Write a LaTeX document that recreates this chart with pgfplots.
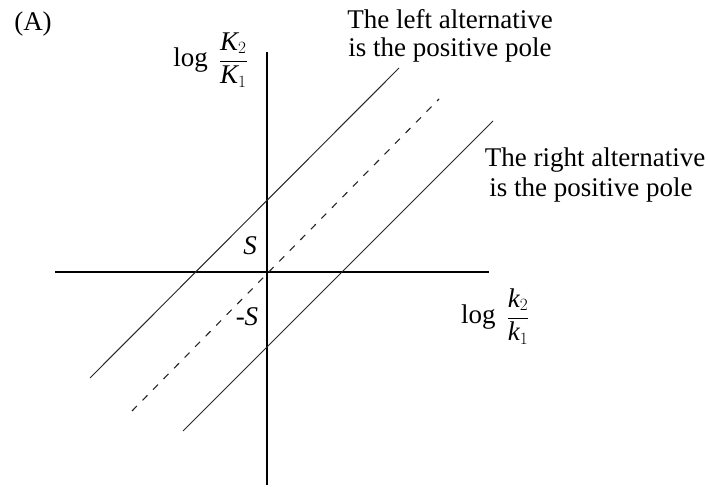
\documentclass[border=0pt]{standalone}
\usepackage{fontspec}
\setmainfont{Liberation Serif}
\usepackage{pgfplots}
\pgfplotsset{compat=1.18}
\begin{document}
\begin{tikzpicture}[
  lbl/.style={font=\fontsize{27bp}{30bp}\selectfont, inner sep=0pt},
]
\begin{axis}[
  scale only axis, width=708bp, height=487bp,
  xmin=-267, xmax=441, ymin=-215, ymax=272,
  hide axis, clip=false,
]
\path (rel axis cs:0,0) rectangle (rel axis cs:1,1);
% coordinate axes
\addplot[black, no markers, line width=1.8bp] coordinates {(0,-213) (0,220)};
\addplot[black, no markers, line width=1.8bp] coordinates {(-212,0) (222,0)};
% boundary lines: intercepts S and -S
\addplot[black!85, no markers, line width=1bp] coordinates {(-177,-106) (132,204)};
\addplot[black!85, no markers, line width=1bp] coordinates {(-84,-159) (226,151)};
% diagonal through the origin
\addplot[black!85, no markers, line width=1.1bp, dash pattern=on 7bp off 8bp]
  coordinates {(-135,-139) (172,173)};
% labels
\node[lbl, anchor=base] at (axis cs:-234,241) {(A)};
\node[lbl, anchor=base] at (axis cs:183,243) {The left alternative};
\node[lbl, anchor=base] at (axis cs:183,215) {is the positive pole};
\node[lbl, anchor=base] at (axis cs:328,105) {The right alternative};
\node[lbl, anchor=base] at (axis cs:324,75) {is the positive pole};
\node[lbl, anchor=base east] at (axis cs:-19,205)
  {$\displaystyle\log\;\frac{\textit{K}_2}{\textit{K}_1}$};
\node[lbl, anchor=base west] at (axis cs:194,-52)
  {$\displaystyle\log\;\frac{\textit{k}_2}{\textit{k}_1}$};
\node[lbl] at (axis cs:-17,26) {\textit{S}};
\node[lbl] at (axis cs:-20,-45) {-\textit{S}};
\end{axis}
\end{tikzpicture}
\end{document}
